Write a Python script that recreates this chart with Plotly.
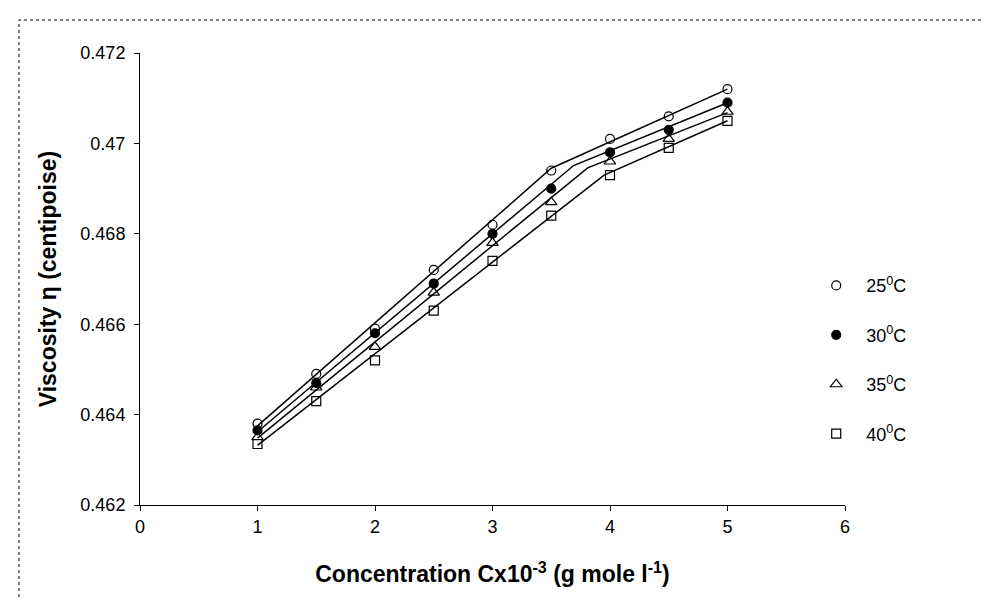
import plotly.graph_objects as go

# ---- data ----
conc = [1, 1.5, 2, 2.5, 3, 3.5, 4, 4.5, 5]
series_names = ["25<sup>0</sup>C", "30<sup>0</sup>C", "35<sup>0</sup>C", "40<sup>0</sup>C"]
visc_25 = [0.4638, 0.4649, 0.4659, 0.4672, 0.4682, 0.4694, 0.4701, 0.4706, 0.4712]
visc_30 = [0.46365, 0.4647, 0.4658, 0.4669, 0.4680, 0.4690, 0.4698, 0.4703, 0.4709]
visc_35 = [0.4635, 0.4646, 0.4655, 0.4667, 0.4678, 0.4687, 0.4696, 0.4701, 0.4707]
visc_40 = [0.46335, 0.4643, 0.4652, 0.4663, 0.4674, 0.4684, 0.4693, 0.4699, 0.4705]

# fitted (piecewise linear) lines: vertices at start, break point, end
fit_x_25 = [1, 3.5, 5]
fit_y_25 = [0.46375, 0.46945, 0.4712]
fit_x_30 = [1, 3.69, 5]
fit_y_30 = [0.46362, 0.46951, 0.4709]
fit_x_35 = [1, 3.81, 5]
fit_y_35 = [0.46348, 0.46946, 0.47068]
fit_x_40 = [1, 3.95, 5]
fit_y_40 = [0.46332, 0.4693, 0.4705]

y_tickvals = [0.462, 0.464, 0.466, 0.468, 0.470, 0.472]
y_ticktext = ["0.462", "0.464", "0.466", "0.468", "0.47", "0.472"]
x_tickvals = [0, 1, 2, 3, 4, 5, 6]

x_title = "Concentration Cx10<sup>-3</sup> (g mole l<sup>-1</sup>)"
y_title = "Viscosity η (centipoise)"

FONT = "Liberation Sans, Arial, sans-serif"

fig = go.Figure()

fits = [(fit_x_25, fit_y_25), (fit_x_30, fit_y_30), (fit_x_35, fit_y_35), (fit_x_40, fit_y_40)]
for fx, fy in fits:
    fig.add_trace(go.Scatter(x=fx, y=fy, mode="lines",
                             line=dict(color="black", width=1.5),
                             showlegend=False, hoverinfo="skip"))

symbols = ["circle-open", "circle", "triangle-up-open", "square-open"]
sizes = [9, 9, 10, 9]
values = [visc_25, visc_30, visc_35, visc_40]
for i, (name, vals) in enumerate(zip(series_names, values)):
    fig.add_trace(go.Scatter(
        x=conc, y=vals, mode="markers", name=name, legendgroup=f"g{i}",
        marker=dict(symbol=symbols[i], size=sizes[i], color="black",
                    line=dict(color="black", width=1.2)),
    ))

fig.update_layout(
    width=989, height=600, autosize=False,
    margin=dict(l=132, r=152, t=45, b=103),
    paper_bgcolor="white", plot_bgcolor="white",
    font=dict(family=FONT, size=18, color="black"),
    legend=dict(x=0.945, xanchor="left", y=0.526, yanchor="top",
                tracegroupgap=23, font=dict(size=18), itemwidth=50,
                bgcolor="rgba(0,0,0,0)"),
    shapes=[dict(type="rect", xref="paper", yref="paper",
                 x0=(11 - 132) / 705, x1=(1000 - 132) / 705,
                 y0=(497 - 610) / 452, y1=(497 - 12) / 452,
                 line=dict(color="black", width=1, dash="dot"))],
)

fig.update_xaxes(range=[0, 6], tickvals=x_tickvals, showline=True, linecolor="black",
                 linewidth=1, ticks="outside", ticklen=5, tickcolor="black",
                 showgrid=False, zeroline=False,
                 title=dict(text=x_title, font=dict(size=23, family=FONT, weight="bold"),
                            standoff=30))
fig.update_yaxes(range=[0.462, 0.472], tickvals=y_tickvals, ticktext=y_ticktext,
                 showline=True, linecolor="black", linewidth=1, ticks="outside",
                 ticklen=5, tickcolor="black", showgrid=False, zeroline=False,
                 ticklabelstandoff=5,
                 title=dict(text=y_title, font=dict(size=23, family=FONT, weight="bold"),
                            standoff=17))

fig.write_html("out.html")
